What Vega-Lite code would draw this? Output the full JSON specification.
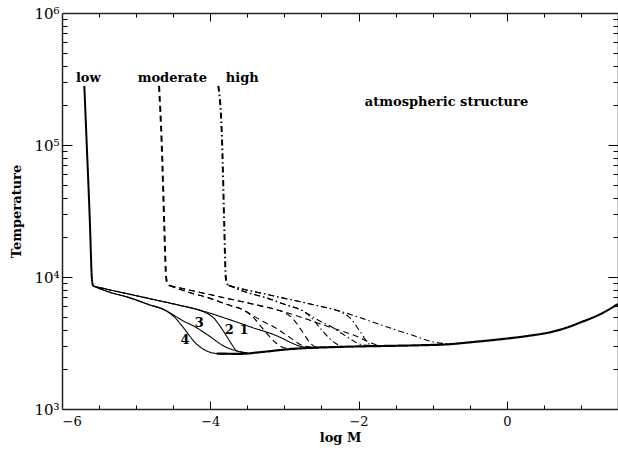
{
  "$schema": "https://vega.github.io/schema/vega-lite/v6.json",
  "width": 556,
  "height": 396,
  "autosize": {"type": "none"},
  "padding": {"left": 62, "top": 13, "right": 0, "bottom": 43},
  "background": "white",
  "config": {
    "view": {"stroke": null},
    "axis": {"grid": false, "domainColor": "#222", "domainWidth": 1.5, "tickColor": "black", "tickWidth": 1, "labelColor": "black", "titleColor": "black", "labelFont": "DejaVu Serif", "titleFont": "DejaVu Serif"}
  },
  "datasets": {
    "curves": [
      {"series": "low-trunk", "family": "low", "part": "trunk", "logM": -5.699, "T": 280500},
      {"series": "low-trunk", "family": "low", "part": "trunk", "logM": -5.667, "T": 103500},
      {"series": "low-trunk", "family": "low", "part": "trunk", "logM": -5.622, "T": 24270},
      {"series": "low-trunk", "family": "low", "part": "trunk", "logM": -5.599, "T": 10160},
      {"series": "low-trunk", "family": "low", "part": "trunk", "logM": -5.59, "T": 9016},
      {"series": "low-trunk", "family": "low", "part": "trunk", "logM": -5.578, "T": 8531},

      {"series": "base", "family": "low", "part": "base", "logM": -3.913, "T": 2630},
      {"series": "base", "family": "low", "part": "base", "logM": -3.6, "T": 2618},
      {"series": "base", "family": "low", "part": "base", "logM": -3.3, "T": 2704},
      {"series": "base", "family": "low", "part": "base", "logM": -3.0, "T": 2818},
      {"series": "base", "family": "low", "part": "base", "logM": -2.7, "T": 2897},
      {"series": "base", "family": "low", "part": "base", "logM": -2.4, "T": 2938},
      {"series": "base", "family": "low", "part": "base", "logM": -2.0, "T": 2979},
      {"series": "base", "family": "low", "part": "base", "logM": -1.5, "T": 3013},
      {"series": "base", "family": "low", "part": "base", "logM": -1.17, "T": 3041},
      {"series": "base", "family": "low", "part": "base", "logM": -0.77, "T": 3097},
      {"series": "base", "family": "low", "part": "base", "logM": -0.5, "T": 3199},
      {"series": "base", "family": "low", "part": "base", "logM": -0.09, "T": 3373},
      {"series": "base", "family": "low", "part": "base", "logM": 0.3, "T": 3589},
      {"series": "base", "family": "low", "part": "base", "logM": 0.58, "T": 3811},
      {"series": "base", "family": "low", "part": "base", "logM": 0.8, "T": 4121},
      {"series": "base", "family": "low", "part": "base", "logM": 0.99, "T": 4519},
      {"series": "base", "family": "low", "part": "base", "logM": 1.26, "T": 5224},
      {"series": "base", "family": "low", "part": "base", "logM": 1.5, "T": 6237},

      {"series": "low-1", "family": "low", "part": "branch", "logM": -5.578, "T": 8531},
      {"series": "low-1", "family": "low", "part": "branch", "logM": -5.352, "T": 7980},
      {"series": "low-1", "family": "low", "part": "branch", "logM": -5.083, "T": 7396},
      {"series": "low-1", "family": "low", "part": "branch", "logM": -4.745, "T": 6714},
      {"series": "low-1", "family": "low", "part": "branch", "logM": -4.408, "T": 6095},
      {"series": "low-1", "family": "low", "part": "branch", "logM": -4.183, "T": 5689},
      {"series": "low-1", "family": "low", "part": "branch", "logM": -3.734, "T": 4742},
      {"series": "low-1", "family": "low", "part": "branch", "logM": -3.464, "T": 4198},
      {"series": "low-1", "family": "low", "part": "branch", "logM": -3.154, "T": 3681},
      {"series": "low-1", "family": "low", "part": "branch", "logM": -2.722, "T": 2938},
      {"series": "low-1", "family": "low", "part": "branch", "logM": -2.55, "T": 2897},

      {"series": "low-2", "family": "low", "part": "branch", "logM": -5.578, "T": 8531},
      {"series": "low-2", "family": "low", "part": "branch", "logM": -5.352, "T": 7980},
      {"series": "low-2", "family": "low", "part": "branch", "logM": -5.083, "T": 7396},
      {"series": "low-2", "family": "low", "part": "branch", "logM": -4.745, "T": 6714},
      {"series": "low-2", "family": "low", "part": "branch", "logM": -4.408, "T": 6095},
      {"series": "low-2", "family": "low", "part": "branch", "logM": -4.183, "T": 5689},
      {"series": "low-2", "family": "low", "part": "branch", "logM": -4.071, "T": 5395},
      {"series": "low-2", "family": "low", "part": "branch", "logM": -3.959, "T": 4920},
      {"series": "low-2", "family": "low", "part": "branch", "logM": -3.824, "T": 3899},
      {"series": "low-2", "family": "low", "part": "branch", "logM": -3.711, "T": 3097},
      {"series": "low-2", "family": "low", "part": "branch", "logM": -3.643, "T": 2754},
      {"series": "low-2", "family": "low", "part": "branch", "logM": -3.5, "T": 2661},

      {"series": "low-3", "family": "low", "part": "branch", "logM": -5.578, "T": 8531},
      {"series": "low-3", "family": "low", "part": "branch", "logM": -5.352, "T": 7656},
      {"series": "low-3", "family": "low", "part": "branch", "logM": -5.083, "T": 6950},
      {"series": "low-3", "family": "low", "part": "branch", "logM": -4.84, "T": 6209},
      {"series": "low-3", "family": "low", "part": "branch", "logM": -4.588, "T": 5521},
      {"series": "low-3", "family": "low", "part": "branch", "logM": -4.476, "T": 5070},
      {"series": "low-3", "family": "low", "part": "branch", "logM": -4.364, "T": 4645},
      {"series": "low-3", "family": "low", "part": "branch", "logM": -4.206, "T": 4198},
      {"series": "low-3", "family": "low", "part": "branch", "logM": -4.048, "T": 3681},
      {"series": "low-3", "family": "low", "part": "branch", "logM": -3.778, "T": 2924},
      {"series": "low-3", "family": "low", "part": "branch", "logM": -3.643, "T": 2754},
      {"series": "low-3", "family": "low", "part": "branch", "logM": -3.5, "T": 2661},

      {"series": "low-4", "family": "low", "part": "branch", "logM": -5.578, "T": 8531},
      {"series": "low-4", "family": "low", "part": "branch", "logM": -5.352, "T": 7656},
      {"series": "low-4", "family": "low", "part": "branch", "logM": -5.083, "T": 6950},
      {"series": "low-4", "family": "low", "part": "branch", "logM": -4.84, "T": 6209},
      {"series": "low-4", "family": "low", "part": "branch", "logM": -4.588, "T": 5521},
      {"series": "low-4", "family": "low", "part": "branch", "logM": -4.476, "T": 4920},
      {"series": "low-4", "family": "low", "part": "branch", "logM": -4.364, "T": 4140},
      {"series": "low-4", "family": "low", "part": "branch", "logM": -4.183, "T": 3097},
      {"series": "low-4", "family": "low", "part": "branch", "logM": -4.048, "T": 2754},
      {"series": "low-4", "family": "low", "part": "branch", "logM": -3.913, "T": 2630},
      {"series": "low-4", "family": "low", "part": "branch", "logM": -3.75, "T": 2606},

      {"series": "mod-trunk", "family": "moderate", "part": "trunk", "logM": -4.691, "T": 280500},
      {"series": "mod-trunk", "family": "moderate", "part": "trunk", "logM": -4.655, "T": 103500},
      {"series": "mod-trunk", "family": "moderate", "part": "trunk", "logM": -4.62, "T": 24270},
      {"series": "mod-trunk", "family": "moderate", "part": "trunk", "logM": -4.597, "T": 10160},
      {"series": "mod-trunk", "family": "moderate", "part": "trunk", "logM": -4.585, "T": 9162},
      {"series": "mod-trunk", "family": "moderate", "part": "trunk", "logM": -4.55, "T": 8610},

      {"series": "mod-1", "family": "moderate", "part": "branch", "logM": -4.55, "T": 8610},
      {"series": "mod-1", "family": "moderate", "part": "branch", "logM": -4.292, "T": 7980},
      {"series": "mod-1", "family": "moderate", "part": "branch", "logM": -4.023, "T": 7396},
      {"series": "mod-1", "family": "moderate", "part": "branch", "logM": -3.685, "T": 6714},
      {"series": "mod-1", "family": "moderate", "part": "branch", "logM": -3.348, "T": 6095},
      {"series": "mod-1", "family": "moderate", "part": "branch", "logM": -3.123, "T": 5689},
      {"series": "mod-1", "family": "moderate", "part": "branch", "logM": -2.674, "T": 4742},
      {"series": "mod-1", "family": "moderate", "part": "branch", "logM": -2.404, "T": 4198},
      {"series": "mod-1", "family": "moderate", "part": "branch", "logM": -2.094, "T": 3681},
      {"series": "mod-1", "family": "moderate", "part": "branch", "logM": -1.662, "T": 3006},
      {"series": "mod-1", "family": "moderate", "part": "branch", "logM": -1.45, "T": 3020},

      {"series": "mod-2", "family": "moderate", "part": "branch", "logM": -4.55, "T": 8610},
      {"series": "mod-2", "family": "moderate", "part": "branch", "logM": -4.292, "T": 7980},
      {"series": "mod-2", "family": "moderate", "part": "branch", "logM": -4.023, "T": 7396},
      {"series": "mod-2", "family": "moderate", "part": "branch", "logM": -3.685, "T": 6714},
      {"series": "mod-2", "family": "moderate", "part": "branch", "logM": -3.348, "T": 6095},
      {"series": "mod-2", "family": "moderate", "part": "branch", "logM": -3.123, "T": 5689},
      {"series": "mod-2", "family": "moderate", "part": "branch", "logM": -3.011, "T": 5395},
      {"series": "mod-2", "family": "moderate", "part": "branch", "logM": -2.899, "T": 4920},
      {"series": "mod-2", "family": "moderate", "part": "branch", "logM": -2.764, "T": 3899},
      {"series": "mod-2", "family": "moderate", "part": "branch", "logM": -2.651, "T": 3162},
      {"series": "mod-2", "family": "moderate", "part": "branch", "logM": -2.58, "T": 2951},
      {"series": "mod-2", "family": "moderate", "part": "branch", "logM": -2.44, "T": 2938},

      {"series": "mod-3", "family": "moderate", "part": "branch", "logM": -4.55, "T": 8610},
      {"series": "mod-3", "family": "moderate", "part": "branch", "logM": -4.292, "T": 7656},
      {"series": "mod-3", "family": "moderate", "part": "branch", "logM": -4.023, "T": 6950},
      {"series": "mod-3", "family": "moderate", "part": "branch", "logM": -3.78, "T": 6209},
      {"series": "mod-3", "family": "moderate", "part": "branch", "logM": -3.528, "T": 5521},
      {"series": "mod-3", "family": "moderate", "part": "branch", "logM": -3.416, "T": 5070},
      {"series": "mod-3", "family": "moderate", "part": "branch", "logM": -3.304, "T": 4645},
      {"series": "mod-3", "family": "moderate", "part": "branch", "logM": -3.146, "T": 4198},
      {"series": "mod-3", "family": "moderate", "part": "branch", "logM": -2.988, "T": 3681},
      {"series": "mod-3", "family": "moderate", "part": "branch", "logM": -2.718, "T": 2985},
      {"series": "mod-3", "family": "moderate", "part": "branch", "logM": -2.583, "T": 2938},
      {"series": "mod-3", "family": "moderate", "part": "branch", "logM": -2.44, "T": 2938},

      {"series": "mod-4", "family": "moderate", "part": "branch", "logM": -4.55, "T": 8610},
      {"series": "mod-4", "family": "moderate", "part": "branch", "logM": -4.292, "T": 7656},
      {"series": "mod-4", "family": "moderate", "part": "branch", "logM": -4.023, "T": 6950},
      {"series": "mod-4", "family": "moderate", "part": "branch", "logM": -3.78, "T": 6209},
      {"series": "mod-4", "family": "moderate", "part": "branch", "logM": -3.528, "T": 5521},
      {"series": "mod-4", "family": "moderate", "part": "branch", "logM": -3.416, "T": 4920},
      {"series": "mod-4", "family": "moderate", "part": "branch", "logM": -3.304, "T": 4140},
      {"series": "mod-4", "family": "moderate", "part": "branch", "logM": -3.123, "T": 3199},
      {"series": "mod-4", "family": "moderate", "part": "branch", "logM": -2.988, "T": 2897},
      {"series": "mod-4", "family": "moderate", "part": "branch", "logM": -2.8, "T": 2871},

      {"series": "high-trunk", "family": "high", "part": "trunk", "logM": -3.891, "T": 280500},
      {"series": "high-trunk", "family": "high", "part": "trunk", "logM": -3.84, "T": 103500},
      {"series": "high-trunk", "family": "high", "part": "trunk", "logM": -3.811, "T": 24270},
      {"series": "high-trunk", "family": "high", "part": "trunk", "logM": -3.792, "T": 10160},
      {"series": "high-trunk", "family": "high", "part": "trunk", "logM": -3.78, "T": 9162},
      {"series": "high-trunk", "family": "high", "part": "trunk", "logM": -3.75, "T": 8610},

      {"series": "high-1", "family": "high", "part": "branch", "logM": -3.75, "T": 8610},
      {"series": "high-1", "family": "high", "part": "branch", "logM": -3.512, "T": 7980},
      {"series": "high-1", "family": "high", "part": "branch", "logM": -3.243, "T": 7396},
      {"series": "high-1", "family": "high", "part": "branch", "logM": -2.905, "T": 6714},
      {"series": "high-1", "family": "high", "part": "branch", "logM": -2.568, "T": 6095},
      {"series": "high-1", "family": "high", "part": "branch", "logM": -2.343, "T": 5689},
      {"series": "high-1", "family": "high", "part": "branch", "logM": -1.894, "T": 4742},
      {"series": "high-1", "family": "high", "part": "branch", "logM": -1.624, "T": 4198},
      {"series": "high-1", "family": "high", "part": "branch", "logM": -1.314, "T": 3681},
      {"series": "high-1", "family": "high", "part": "branch", "logM": -0.945, "T": 3184},
      {"series": "high-1", "family": "high", "part": "branch", "logM": -0.75, "T": 3112},

      {"series": "high-2", "family": "high", "part": "branch", "logM": -3.75, "T": 8610},
      {"series": "high-2", "family": "high", "part": "branch", "logM": -3.512, "T": 7980},
      {"series": "high-2", "family": "high", "part": "branch", "logM": -3.243, "T": 7396},
      {"series": "high-2", "family": "high", "part": "branch", "logM": -2.905, "T": 6714},
      {"series": "high-2", "family": "high", "part": "branch", "logM": -2.568, "T": 6095},
      {"series": "high-2", "family": "high", "part": "branch", "logM": -2.343, "T": 5689},
      {"series": "high-2", "family": "high", "part": "branch", "logM": -2.231, "T": 5395},
      {"series": "high-2", "family": "high", "part": "branch", "logM": -2.119, "T": 4920},
      {"series": "high-2", "family": "high", "part": "branch", "logM": -1.984, "T": 3899},
      {"series": "high-2", "family": "high", "part": "branch", "logM": -1.871, "T": 3162},
      {"series": "high-2", "family": "high", "part": "branch", "logM": -1.8, "T": 3020},
      {"series": "high-2", "family": "high", "part": "branch", "logM": -1.65, "T": 3006},

      {"series": "high-3", "family": "high", "part": "branch", "logM": -3.75, "T": 8610},
      {"series": "high-3", "family": "high", "part": "branch", "logM": -3.512, "T": 7656},
      {"series": "high-3", "family": "high", "part": "branch", "logM": -3.243, "T": 6950},
      {"series": "high-3", "family": "high", "part": "branch", "logM": -3.0, "T": 6209},
      {"series": "high-3", "family": "high", "part": "branch", "logM": -2.748, "T": 5521},
      {"series": "high-3", "family": "high", "part": "branch", "logM": -2.636, "T": 5070},
      {"series": "high-3", "family": "high", "part": "branch", "logM": -2.524, "T": 4645},
      {"series": "high-3", "family": "high", "part": "branch", "logM": -2.366, "T": 4198},
      {"series": "high-3", "family": "high", "part": "branch", "logM": -2.208, "T": 3681},
      {"series": "high-3", "family": "high", "part": "branch", "logM": -1.938, "T": 3055},
      {"series": "high-3", "family": "high", "part": "branch", "logM": -1.8, "T": 3020},
      {"series": "high-3", "family": "high", "part": "branch", "logM": -1.65, "T": 3006},

      {"series": "high-4", "family": "high", "part": "branch", "logM": -3.75, "T": 8610},
      {"series": "high-4", "family": "high", "part": "branch", "logM": -3.512, "T": 7656},
      {"series": "high-4", "family": "high", "part": "branch", "logM": -3.243, "T": 6950},
      {"series": "high-4", "family": "high", "part": "branch", "logM": -3.0, "T": 6209},
      {"series": "high-4", "family": "high", "part": "branch", "logM": -2.748, "T": 5521},
      {"series": "high-4", "family": "high", "part": "branch", "logM": -2.636, "T": 4920},
      {"series": "high-4", "family": "high", "part": "branch", "logM": -2.524, "T": 4140},
      {"series": "high-4", "family": "high", "part": "branch", "logM": -2.343, "T": 3236},
      {"series": "high-4", "family": "high", "part": "branch", "logM": -2.208, "T": 2979},
      {"series": "high-4", "family": "high", "part": "branch", "logM": -2.05, "T": 2972}
    ],
    "labels": [
      {"label": "low", "logM": -5.645, "T": 302000},
      {"label": "moderate", "logM": -4.512, "T": 302000},
      {"label": "high", "logM": -3.568, "T": 302000},
      {"label": "atmospheric structure", "logM": -0.813, "T": 198200},
      {"label": "1", "logM": -3.545, "T": 3673},
      {"label": "2", "logM": -3.743, "T": 3715},
      {"label": "3", "logM": -4.148, "T": 4178},
      {"label": "4", "logM": -4.341, "T": 3119}
    ]
  },
  "layer": [
    {
      "data": {"name": "curves"},
      "mark": {"type": "line", "interpolate": "monotone", "color": "black"},
      "encoding": {
        "x": {"field": "logM", "type": "quantitative",
          "scale": {"domain": [-6, 1.5], "nice": false, "zero": false},
          "axis": {"orient": "bottom", "values": [-6, -4, -2, 0], "format": "d", "ticks": false, "labelFontSize": 13, "labelPadding": 6, "title": "log M", "titleFontSize": 13, "titleFontWeight": "bold", "titlePadding": 3}},
        "y": {"field": "T", "type": "quantitative",
          "scale": {"type": "log", "domain": [1000, 1000000], "nice": false},
          "axis": {"orient": "left", "values": [1000, 10000, 100000, 1000000], "ticks": false, "labelFontSize": 15, "labelPadding": 3,
            "labelExpr": "datum.value == 1000 ? '10³' : datum.value == 10000 ? '10⁴' : datum.value == 100000 ? '10⁵' : '10⁶'",
            "title": "Temperature", "titleFontSize": 13, "titleFontWeight": "bold", "titlePadding": 10}},
        "detail": {"field": "series", "type": "nominal"},
        "strokeDash": {"field": "family", "type": "nominal", "scale": {"domain": ["low", "moderate", "high"], "range": [[1, 0], [6, 4], [6, 3, 1.5, 3]]}, "legend": null},
        "strokeWidth": {"field": "part", "type": "nominal", "scale": {"type": "ordinal", "domain": ["trunk", "branch", "base"], "range": [2, 1.1, 2.2]}, "legend": null}
      }
    },
    {
      "data": {"name": "labels"},
      "mark": {"type": "text", "font": "DejaVu Serif", "fontWeight": "bold", "fontSize": 13, "baseline": "alphabetic", "align": "center", "color": "black"},
      "encoding": {
        "x": {"field": "logM", "type": "quantitative",
          "axis": {"orient": "bottom", "values": [-4, -2, 0], "tickSize": -8, "labels": false, "domain": false, "title": null}},
        "y": {"field": "T", "type": "quantitative",
          "axis": {"orient": "left", "values": [10000, 100000], "tickSize": -10, "labels": false, "domain": false, "title": null}},
        "text": {"field": "label", "type": "nominal"}
      }
    },
    {
      "data": {"name": "labels"},
      "mark": {"type": "point", "opacity": 0},
      "encoding": {
        "x": {"field": "logM", "type": "quantitative",
          "axis": {"orient": "bottom", "values": [-5.5, -5, -4.5, -3.5, -3, -2.5, -1.5, -1, -0.5, 0.5, 1], "tickSize": -4, "labels": false, "domain": false, "title": null}},
        "y": {"field": "T", "type": "quantitative",
          "axis": {"orient": "left", "values": [2000, 3000, 4000, 5000, 6000, 7000, 8000, 9000, 20000, 30000, 40000, 50000, 60000, 70000, 80000, 90000, 200000, 300000, 400000, 500000, 600000, 700000, 800000, 900000], "tickSize": -5, "labels": false, "domain": false, "title": null}}
      }
    },
    {
      "data": {"name": "labels"},
      "mark": {"type": "point", "opacity": 0},
      "encoding": {
        "x": {"field": "logM", "type": "quantitative",
          "axis": {"orient": "top", "values": [-4, -2, 0], "tickSize": -8, "labels": false, "domain": true, "title": null}},
        "y": {"field": "T", "type": "quantitative",
          "axis": {"orient": "right", "values": [10000, 100000], "tickSize": -10, "labels": false, "domain": true, "title": null}}
      }
    },
    {
      "data": {"name": "labels"},
      "mark": {"type": "point", "opacity": 0},
      "encoding": {
        "x": {"field": "logM", "type": "quantitative",
          "axis": {"orient": "top", "values": [-5.5, -5, -4.5, -3.5, -3, -2.5, -1.5, -1, -0.5, 0.5, 1], "tickSize": -4, "labels": false, "domain": false, "title": null}},
        "y": {"field": "T", "type": "quantitative",
          "axis": {"orient": "right", "values": [2000, 3000, 4000, 5000, 6000, 7000, 8000, 9000, 20000, 30000, 40000, 50000, 60000, 70000, 80000, 90000, 200000, 300000, 400000, 500000, 600000, 700000, 800000, 900000], "tickSize": -5, "labels": false, "domain": false, "title": null}}
      }
    }
  ],
  "resolve": {"axis": {"x": "independent", "y": "independent"}}
}
